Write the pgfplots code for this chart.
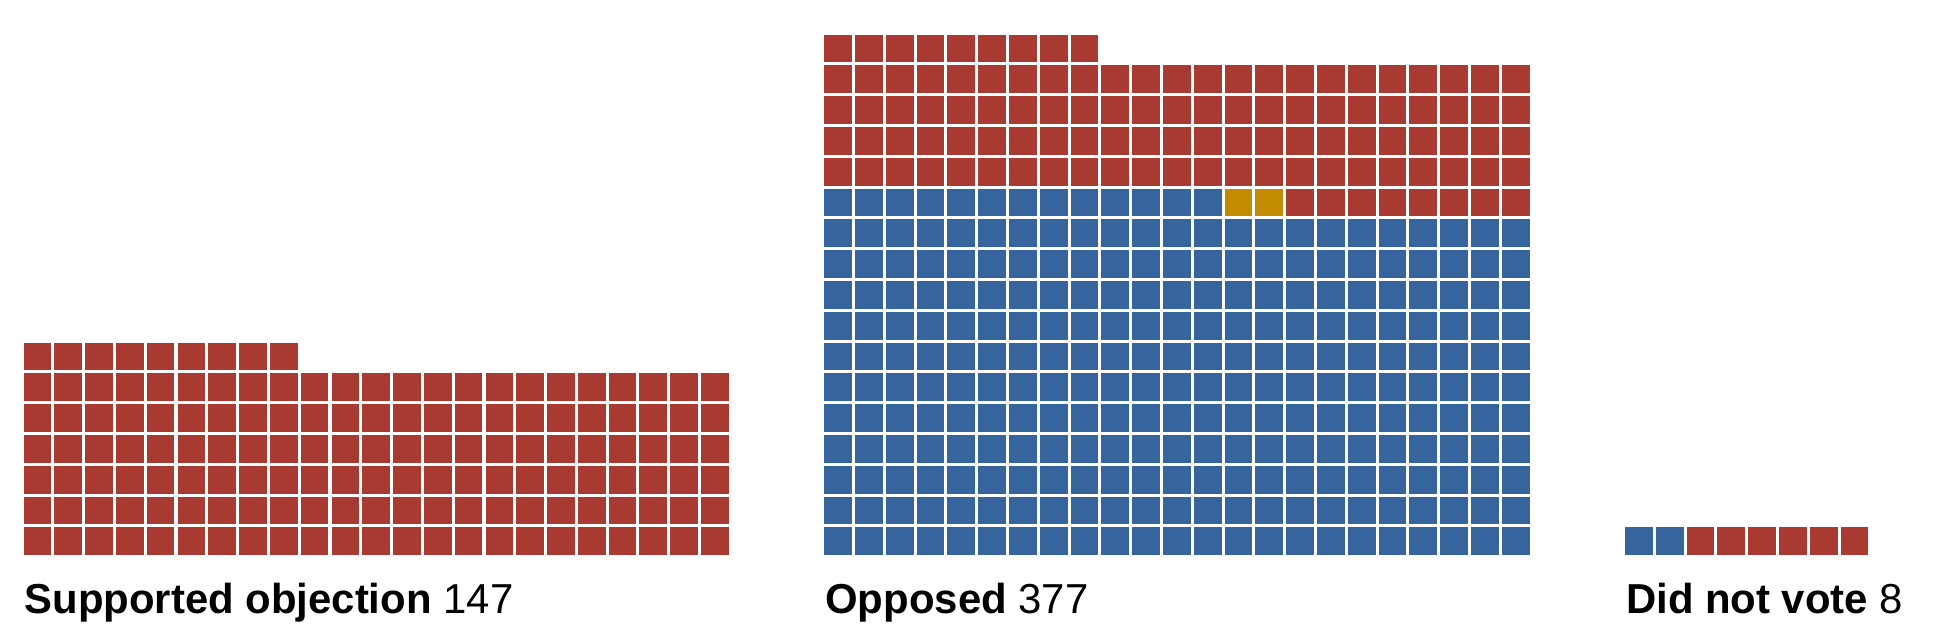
\documentclass[border=0pt]{standalone}
\usepackage{pgfplots}
\pgfplotsset{compat=1.18}
\usepackage{fontspec}
\setmainfont{Liberation Sans}
\definecolor{wpred}{HTML}{A93A31}
\definecolor{wpblue}{HTML}{35659C}
\definecolor{wpgold}{HTML}{C28B00}

% #1 macro, #2 x offset (cells), #3 first cell index, #4 number of cells
\newcommand\buildcells[4]{%
  \gdef#1{}%
  \pgfmathtruncatemacro\lastk{#3+#4-1}%
  \foreach \k in {#3,...,\lastk}{%
    \pgfmathtruncatemacro\col{mod(\k,23)}%
    \pgfmathtruncatemacro\row{floor(\k/23)}%
    \pgfmathsetmacro\cx{#2+\col+0.435}%
    \pgfmathsetmacro\cy{\row+0.435}%
    \xdef#1{#1 (\cx,\cy)}%
  }%
}
% Supported objection: 147 (R)
\buildcells\cellsA{0}{0}{147}
% Opposed: 266 (D), 2 (other), 109 (R)
\buildcells\cellsBd{26}{0}{266}
\buildcells\cellsBo{26}{266}{2}
\buildcells\cellsBr{26}{268}{109}
% Did not vote: 2 (D), 6 (R)
\buildcells\cellsCd{52}{0}{2}
\buildcells\cellsCr{52}{2}{6}

\begin{document}
\begin{tikzpicture}
\begin{axis}[
  x=10pt, y=10pt,
  xmin=-0.779, xmax=62.31, ymin=-2.80, ymax=18.01,
  axis lines=none, ticks=none, clip=false,
  scale only axis,
  every axis plot/.append style={only marks, mark=square*, mark size=4.3pt, mark options={draw=none}},
]
\path[draw=none, fill=none] (axis cs:-0.779,-2.80) rectangle (axis cs:62.31,18.01);
\edef\tmp{\noexpand\addplot[color=wpred, fill=wpred] coordinates {\cellsA};}\tmp
\edef\tmp{\noexpand\addplot[color=wpblue, fill=wpblue] coordinates {\cellsBd};}\tmp
\edef\tmp{\noexpand\addplot[color=wpgold, fill=wpgold] coordinates {\cellsBo};}\tmp
\edef\tmp{\noexpand\addplot[color=wpred, fill=wpred] coordinates {\cellsBr};}\tmp
\edef\tmp{\noexpand\addplot[color=wpblue, fill=wpblue] coordinates {\cellsCd};}\tmp
\edef\tmp{\noexpand\addplot[color=wpred, fill=wpred] coordinates {\cellsCr};}\tmp
\node[anchor=base west, inner sep=0pt, font=\fontsize{13.6}{16}\selectfont] at (axis cs:0,-1.925) {\textbf{Supported objection} 147};
\node[anchor=base west, inner sep=0pt, font=\fontsize{13.6}{16}\selectfont] at (axis cs:26,-1.925) {\textbf{Opposed} 377};
\node[anchor=base west, inner sep=0pt, font=\fontsize{13.6}{16}\selectfont] at (axis cs:52,-1.925) {\textbf{Did not vote} 8};
\end{axis}
\end{tikzpicture}
\end{document}
